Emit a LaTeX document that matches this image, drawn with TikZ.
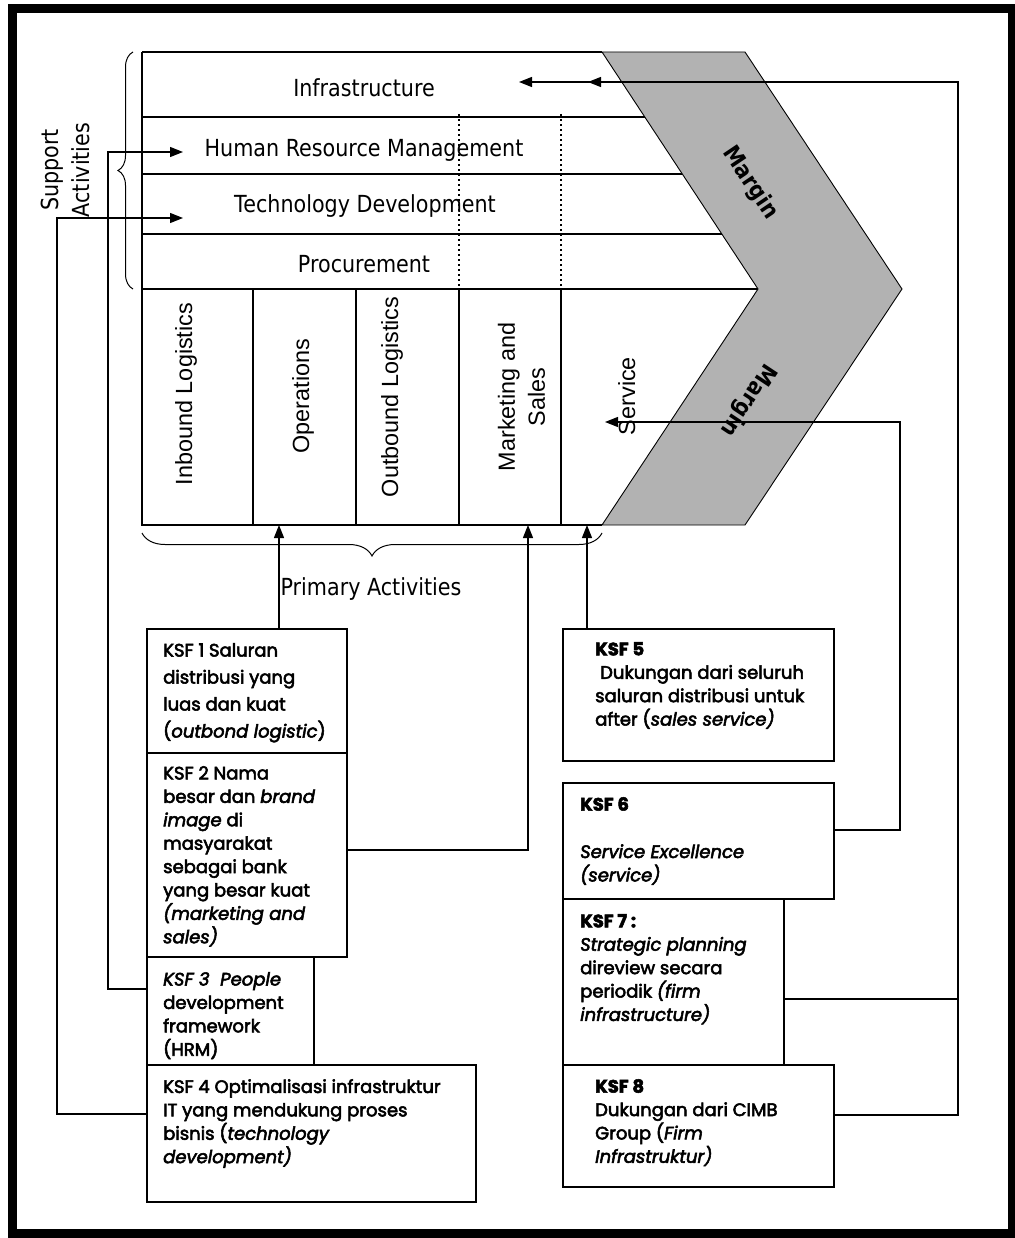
\documentclass[tikz,border=0pt]{standalone}
\usepackage{fontspec}
\usetikzlibrary{arrows.meta,decorations.pathreplacing,calc}
\newfontfamily\tahomafont{DejaVu Sans}[FakeStretch=0.88]
\newfontfamily\tahomabold{DejaVu Sans Bold}[FakeStretch=0.9]
\newfontfamily\arialfont{Liberation Sans}
\newfontfamily\ksffont{Poppins}[FakeBold=3]
\definecolor{margingray}{RGB}{178,178,178}
\newcommand{\kstrut}{\rule{0pt}{13pt}}

\begin{document}
\begin{tikzpicture}[x=1pt,y=-1pt,
  vc/.style={line width=1.3pt},
  dotline/.style={line width=1.2pt, dash pattern=on 2pt off 3pt},
  conn/.style={line width=1.3pt},
  arr/.style={conn, -{Triangle[length=13pt,width=10pt]}},
  bracestyle/.style={line width=1pt, decorate},
  ksfbox/.style={draw, line width=1.6pt, inner sep=0pt, outer sep=0pt},
  ksftext/.style={font=\ksffont\fontsize{18}{23.4}\selectfont, anchor=north west, inner sep=0pt, align=left},
  rowlabel/.style={font=\tahomafont\fontsize{23.5}{28}\selectfont, anchor=base, inner sep=0pt},
  collabel/.style={font=\arialfont\fontsize{23.4}{30}\selectfont, rotate=90, inner sep=0pt},
  marginlabel/.style={font=\tahomabold\fontsize{23}{26}\selectfont, inner sep=0pt}
]
\useasboundingbox (0,0) rectangle (1014,1238);

% outer frame
\draw[line width=9pt] (12.5,9) rectangle (1012,1233);

% value chain: support rows
\draw[vc] (142,52) -- (602,52);
\draw[vc] (142,52) -- (142,525) -- (602,525);
\draw[vc] (142,117) -- (645,117);
\draw[vc] (142,174) -- (683,174);
\draw[vc] (142,234) -- (722,234);
\draw[vc] (142,289) -- (758,289);
% primary columns
\draw[vc] (253,289) -- (253,525);
\draw[vc] (356,289) -- (356,525);
\draw[vc] (459,289) -- (459,525);
\draw[vc] (561,289) -- (561,525);
\draw[dotline] (459,114) -- (459,289);
\draw[dotline] (561,114) -- (561,289);

% margin chevron
\draw[line width=0.9pt, fill=margingray] (602,52) -- (745,52) -- (902,289) -- (745,525) -- (602,525) -- (758,289) -- cycle;
\node[marginlabel, rotate=-56] (margintop) at (750,183) {Margin};
\node[marginlabel, rotate=-123.5] (marginbot) at (748,400) {Margin};

% row labels
\node[rowlabel] (infra) at (364,97) {Infrastructure};
\node[rowlabel] (hrm) at (364,157) {Human Resource Management};
\node[rowlabel] (tech) at (365,213) {Technology Development};
\node[rowlabel] (proc) at (364,273) {Procurement};

% column labels
\node[collabel, anchor=base] (inbound) at (192,394) {Inbound Logistics};
\node[collabel, anchor=base] (operations) at (309,396) {Operations};
\node[collabel, anchor=base] (outbound) at (398,397) {Outbound Logistics};
\node[collabel, align=center] (marketing) at (521.5,397) {Marketing and\\Sales};
\node[collabel, anchor=base] (service) at (635,396) {Service};

% braces
\draw[bracestyle, decoration={brace, amplitude=15pt}] (133,289) -- (133,52);
\node[font=\tahomafont\fontsize{23.5}{31}\selectfont, align=center, rotate=90, inner sep=0pt] (support) at (65,170) {Support\\Activities};
\draw[bracestyle, decoration={brace, amplitude=23pt}] (602,533) -- (142,533);
\node[rowlabel] (primary) at (371,595) {Primary Activities};

% KSF boxes
\node[ksfbox, minimum width=200pt, minimum height=124pt] (k1) at (247,691) {};
\node[ksfbox, minimum width=200pt, minimum height=204pt] (k2) at (247,855) {};
\node[ksfbox, minimum width=167pt, minimum height=108pt] (k3) at (230.5,1011) {};
\node[ksfbox, minimum width=329pt, minimum height=137pt] (k4) at (311.5,1133.5) {};
\node[ksfbox, minimum width=271pt, minimum height=132pt] (k5) at (698.5,695) {};
\node[ksfbox, minimum width=271pt, minimum height=116pt] (k6) at (698.5,841) {};
\node[ksfbox, minimum width=221pt, minimum height=166pt] (k7) at (673.5,982) {};
\node[ksfbox, minimum width=271pt, minimum height=122pt] (k8) at (698.5,1126) {};

% KSF texts
\node[ksftext, font=\ksffont\fontsize{18}{27}\selectfont] (t1) at (163,643)
  {\kstrut KSF 1 Saluran\\distribusi yang\\luas dan kuat\\(\textit{outbond logistic})};
\node[ksftext] (t2) at (163,766)
  {\kstrut KSF 2 Nama\\besar dan \textit{brand}\\\textit{image} di\\masyarakat\\sebagai bank\\yang besar kuat\\\textit{(marketing and}\\\textit{sales)}};
\node[ksftext] (t3) at (163,972)
  {\itshape\kstrut KSF 3\ \ People\\development\\framework\\(HRM)};
\node[ksftext] (t4) at (163,1079)
  {\kstrut KSF 4 Optimalisasi infrastruktur\\IT yang mendukung proses\\bisnis (\textit{technology}\\\textit{development)}};
\node[ksftext] (t5) at (595,642)
  {\kstrut\textbf{KSF 5}\\\hspace*{5pt}Dukungan dari seluruh\\saluran distribusi untuk\\after (\textit{sales service)}};
\node[ksftext] (t6) at (580,797)
  {\kstrut\textbf{KSF 6}\\[24pt]\textit{Service Excellence}\\\textit{(service)}};
\node[ksftext] (t7) at (580,914)
  {\kstrut\textbf{KSF 7 :}\\\textit{Strategic planning}\\direview secara\\periodik \textit{(firm}\\\textit{infrastructure)}};
\node[ksftext] (t8) at (595,1079)
  {\kstrut\textbf{KSF 8}\\Dukungan dari CIMB\\Group (\textit{Firm}\\\textit{Infrastruktur)}};

% connector end points
\coordinate (infraA) at (588,82);
\coordinate (infraB) at (519,82);
\coordinate (rbus) at (958,82);
\coordinate (hrmIn) at (183,152);
\coordinate (hbus) at (108,152);
\coordinate (techIn) at (183,218);
\coordinate (tbus) at (57,218);
\coordinate (opsIn) at (279,525);
\coordinate (mktIn) at (528,525);
\coordinate (svcIn) at (587,525);
\coordinate (svcSide) at (605,422);
\coordinate (sbus) at (900,422);

% connectors
\draw[arr] (k1.north -| opsIn) -- (opsIn);
\draw[arr] ([yshift=5pt]k2.east) -| (mktIn);
\draw[arr] ([yshift=22pt]k3.west) -| (hbus) -- (hrmIn);
\draw[arr] ([yshift=19.5pt]k4.west) -| (tbus) -- (techIn);
\draw[arr] (k5.north -| svcIn) -- (svcIn);
\draw[arr] ([yshift=11pt]k6.east) -| (sbus) -- (svcSide);
\draw[arr] ([yshift=-17pt]k7.east) -| (rbus) -- (infraA);
\draw[arr] ([yshift=11pt]k8.east) -| (rbus) -- (infraB);
\end{tikzpicture}
\end{document}
